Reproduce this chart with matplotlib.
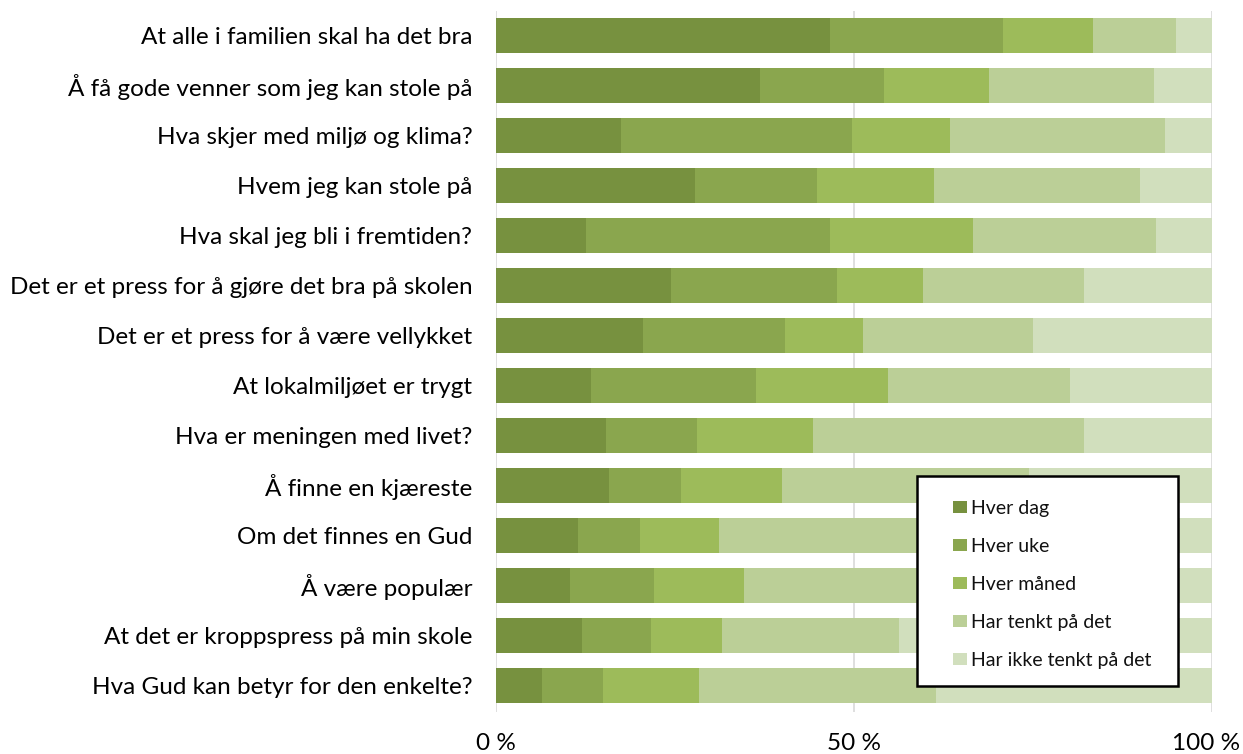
import matplotlib
matplotlib.use("Agg")
import matplotlib.pyplot as plt
import matplotlib.transforms as mtransforms
from matplotlib.patches import Rectangle
import numpy as np

categories = [
    "At alle i familien skal ha det bra",
    "Å få gode venner som jeg kan stole på",
    "Hva skjer med miljø og klima?",
    "Hvem jeg kan stole på",
    "Hva skal jeg bli i fremtiden?",
    "Det er et press for å gjøre det bra på skolen",
    "Det er et press for å være vellykket",
    "At lokalmiljøet er trygt",
    "Hva er meningen med livet?",
    "Å finne en kjæreste",
    "Om det finnes en Gud",
    "Å være populær",
    "At det er kroppspress på min skole",
    "Hva Gud kan betyr for den enkelte?",
]

series_names = ["Hver dag", "Hver uke", "Hver måned", "Har tenkt på det", "Har ikke tenkt på det"]

hver_dag = [46.6, 36.9, 17.4, 27.8, 12.6, 24.5, 20.6, 13.2, 15.4, 15.8, 11.4, 10.4, 12.0, 6.4]
hver_uke = [24.2, 17.3, 32.3, 17.1, 34.0, 23.1, 19.8, 23.1, 12.7, 10.0, 8.7, 11.6, 9.7, 8.5]
hver_maaned = [12.6, 14.7, 13.7, 16.3, 20.0, 12.0, 10.8, 18.4, 16.2, 14.2, 11.0, 12.7, 9.9, 13.5]
har_tenkt = [11.6, 23.0, 30.0, 28.8, 25.6, 22.5, 23.8, 25.5, 37.8, 34.4, 42.0, 42.3, 24.7, 33.1]
har_ikke = [5.0, 8.1, 6.6, 10.0, 7.8, 17.9, 25.0, 19.8, 17.9, 25.6, 26.9, 23.0, 43.7, 38.5]

colors = ["#77913f", "#8aa64e", "#9dbb5a", "#bbcf97", "#d1dfbd"]

plt.rcParams["font.family"] = ["Lato", "DejaVu Sans"]

W, H = 1243, 754
fig = plt.figure(figsize=(W / 100, H / 100), dpi=100)
ax = fig.add_axes([496 / W, 42 / H, 716 / W, 701 / H])

y = np.arange(len(categories))
left = np.zeros(len(categories))
for name, vals, col in zip(series_names,
                           [hver_dag, hver_uke, hver_maaned, har_tenkt, har_ikke],
                           colors):
    vals = np.array(vals)
    ax.barh(y, vals, left=left, height=0.7, color=col, label=name, zorder=2)
    left += vals

ax.set_xlim(0, 100)
ax.set_ylim(13.53, -0.49)
ax.set_xticks([0, 50, 100])
ax.set_xticklabels(["0 %", "50 %", "100 %"], fontsize=17.5)
ax.set_yticks(y)
ax.set_yticklabels(categories, fontsize=17.5)
ax.tick_params(axis="y", length=0, pad=17)
ax.tick_params(axis="x", length=0, pad=15)
ax.grid(axis="x", color="#d9d9d9", linewidth=1.2, zorder=0)
for s in ax.spines.values():
    s.set_visible(False)

# litt inn fra høyrekanten så "100 %" ikke kuttes
last = ax.get_xticklabels()[-1]
last.set_transform(last.get_transform()
                   + mtransforms.ScaledTranslation(-6 / 100, 0, fig.dpi_scale_trans))

# ramme tegnes for seg, slik at plasseringen blir som i originalen
frame = Rectangle((917 / W, 1 - 686 / H), 261 / W, 210 / H, transform=fig.transFigure,
                  facecolor="white", edgecolor="black", linewidth=1.8, zorder=4)
fig.patches.append(frame)

leg = fig.legend(loc="upper left", bbox_to_anchor=(953 / W, 1 - 500 / H),
                 fontsize=14, frameon=False,
                 handlelength=0.7, handleheight=0.55, handletextpad=0.25,
                 labelspacing=1.08, borderpad=0, borderaxespad=0)
leg.set_zorder(5)
for t in leg.get_texts():
    t.set_color("#111111")

fig.savefig("out.png", dpi=100)
